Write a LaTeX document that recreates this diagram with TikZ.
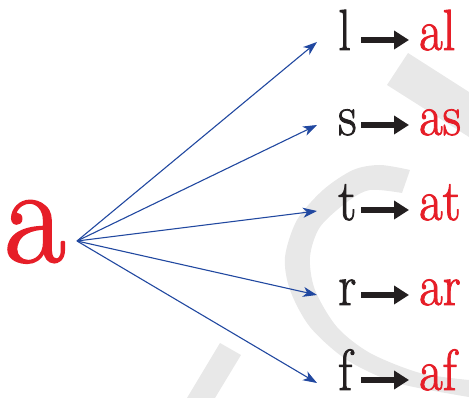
\documentclass[tikz,border=0pt]{standalone}
\usetikzlibrary{arrows.meta,calc}
\definecolor{wmgray}{RGB}{232,232,232}
\definecolor{redtxt}{RGB}{230,30,40}
\definecolor{blacktxt}{RGB}{35,31,32}
\definecolor{bluearr}{RGB}{33,72,160}
\newcommand{\heavytxt}[2]{\special{pdf:code q 2 Tr #1 w 1 j}#2\special{pdf:code Q}}
\newcommand{\narrowtxt}[1]{\scalebox{0.88}[1]{\heavytxt{0.9}{#1}}}
\tikzset{
  letter/.style={anchor=base west,inner sep=0pt,text=blacktxt,font=\fontsize{58}{58}\selectfont},
  word/.style={anchor=base west,inner sep=0pt,text=redtxt,font=\fontsize{58}{58}\selectfont},
  bigarrow/.style={draw=blacktxt,line width=6pt,-{Triangle[length=15pt,width=18pt]}},
  fanarrow/.style={draw=bluearr,line width=1.1pt,-{Stealth[length=14pt,width=10pt,inset=4pt]}}
}
\begin{document}
\begin{tikzpicture}[x=1pt,y=1pt]
\useasboundingbox (0,0) rectangle (469,398);
% watermark shapes
\fill[wmgray] (408,345) -- (469,306) -- (469,261) -- (387,313) -- cycle;
\fill[wmgray] (220,55) -- (241,43) -- (215,0) -- (187,0) -- cycle;
\fill[wmgray] plot[smooth] coordinates {(410,228) (380,233) (353,228) (323,208) (297,178) (285,141) (290,108) (310,71) (347,38) (397,15) (469,1)}
  -- plot[smooth] coordinates {(469,18) (420,25) (370,45) (337,71) (315,108) (310,141) (320,171) (347,196) (370,208) (402,205)} -- cycle;
% big letter
\node[anchor=base west,inner sep=0pt,text=redtxt,font=\fontsize{139}{139}\selectfont] (big) at (4,136) {\scalebox{0.96}[1]{\heavytxt{2}{a}}};
\coordinate (o) at (77,157);
% rows
\node[letter] (l1) at (338,348) {\narrowtxt{l}};
\node[word]   (w1) at (419,348) {\narrowtxt{al}};
\node[letter] (l2) at (338,263) {\narrowtxt{s}};
\node[word]   (w2) at (419,263) {\narrowtxt{as}};
\node[letter] (l3) at (338,178) {\narrowtxt{t}};
\node[word]   (w3) at (419,178) {\narrowtxt{at}};
\node[letter] (l4) at (338,93) {\narrowtxt{r}};
\node[word]   (w4) at (419,93) {\narrowtxt{ar}};
\node[letter] (l5) at (338,8) {\narrowtxt{f}};
\node[word]   (w5) at (419,8) {\narrowtxt{af}};
\foreach \i in {1,...,5}{
  \draw[bigarrow] ($(l\i.base west)+(23,10)$) -- ($(w\i.base west)+(-10,10)$);
}
\draw[fanarrow] (o) -- ($(l1.base west)+(-21,8)$);
\draw[fanarrow] (o) -- ($(l2.base west)+(-21,10)$);
\draw[fanarrow] (o) -- ($(l3.base west)+(-21,9)$);
\draw[fanarrow] (o) -- ($(l4.base west)+(-21,10)$);
\draw[fanarrow] (o) -- ($(l5.base west)+(-21,7)$);
\end{tikzpicture}
\end{document}
